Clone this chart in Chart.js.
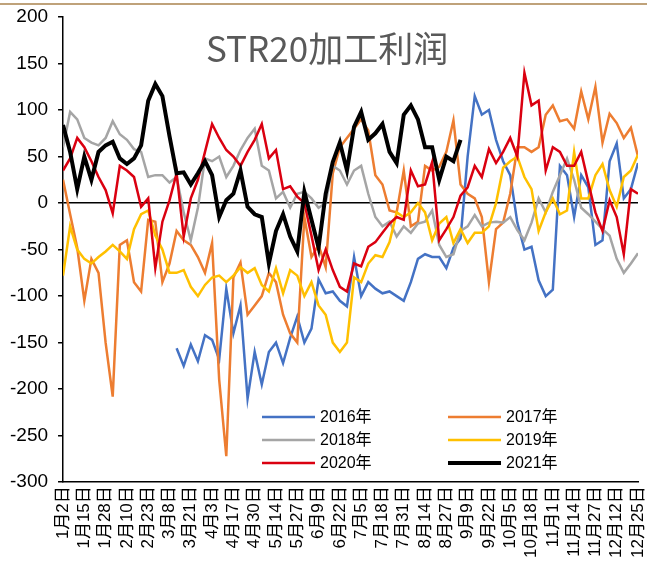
<!DOCTYPE html>
<html>
<head>
<meta charset="utf-8">
<script src="https://cdn.jsdelivr.net/npm/chart.js@4.4.0/dist/chart.umd.min.js"></script>
<style>
  html, body { margin: 0; padding: 0; background: #fff; }
</style>
</head>
<body>
<canvas id="graphe" width="647" height="562"></canvas>
<script>
// STR20 processing margin, seasonal comparison 2016-2021

const titre = "STR20加工利润";

const tickLabels = [
  "1月2日", "1月15日", "1月28日", "2月10日", "2月23日", "3月8日", "3月21日",
  "4月3日", "4月17日", "4月30日", "5月14日", "5月27日", "6月9日", "6月22日",
  "7月5日", "7月18日", "7月31日", "8月14日", "8月27日", "9月9日", "9月22日",
  "10月5日", "10月18日", "11月1日", "11月14日", "11月27日", "12月12日", "12月25日",
];
const yTicks = [-300, -250, -200, -150, -100, -50, 0, 50, 100, 150, 200];

// one point every third of a label interval
const seriesNames = ["2016年", "2017年", "2018年", "2019年", "2020年", "2021年"];

const v2016 = [
  null, null, null, null, null, null, null, null, null, null,
  null, null, null, null, null, null, -156, -175, -152, -170,
  -142, -147, -168, -92, -140, -110, -210, -160, -195, -160,
  -150, -172, -145, -122, -150, -135, -82, -97, -95, -105,
  -111, -58, -100, -85, -92, -97, -95, -100, -105, -85,
  -60, -55, -58, -58, -70, -48, -38, 50, 115, 95,
  100, 68, 45, 30, -21, -50, -47, -83, -100, -93,
  40, 30, -15, 30, 17, -45, -40, 45, 64, 5,
  15, 43,
];
const v2017 = [
  25, -12, -48, -105, -60, -75, -150, -208, -45, -40,
  -85, -95, -18, -20, -85, -65, -30, -40, -45, -58,
  -75, -43, -190, -272, -80, -64, -120, -110, -100, -75,
  -85, -120, -140, -150, -15, -58, -45, -69, 32, 60,
  70, 80, 90, 78, 30, 20, -8, -10, 35, -25,
  -20, 40, 35, 39, 55, 89, 20, 10, 5, -15,
  -85, -28, -21, 10, 60, 60, 55, 60, 95, 105,
  88, 90, 80, 120, 90, 125, 65, 96, 86, 70,
  81, 50,
];
const v2018 = [
  60, 98, 90, 70, 65, 62, 70, 88, 74, 68,
  58, 55, 28, 30, 30, 22, 28, -10, -40, -5,
  48, 45, 50, 28, 40, 57, 70, 80, 40, 35,
  5, 12, -5, 10, 12, 5, -5, 0, 40, 35,
  20, 35, 40, 10, -15, -25, -20, -36, -25, -32,
  -22, -20, -8, -45, -58, -55, -30, -25, -13, -25,
  -21, -20, -21, -15, -29, -40, -21, 5, -10, 12,
  30, 48, 25, -5, -12, -20, -28, -35, -60, -75,
  -65, -54,
];
const v2019 = [
  -78, -25, -50, -60, -65, -58, -52, -45, -52, -60,
  -28, -12, -8, -35, -50, -75, -75, -72, -90, -100,
  -88, -80, -78, -85, -78, -69, -75, -70, -88, -95,
  -70, -97, -72, -78, -100, -85, -110, -120, -150, -160,
  -150, -80, -85, -65, -56, -58, -42, -10, -15, -10,
  0, -10, -40, -22, -15, -43, -28, -43, -32, -32,
  -25, 0, 38, 45, 50, 28, 15, -30, -10, 5,
  -12, -8, 55, 5, 5, 30, 42, 14, -4, 28,
  35, 52,
];
const v2020 = [
  35, 48, 70, 60, 45, 28, 14, -11, 40, 35,
  28, -4, 5, -70, -20, 3, 32, -36, 5, 25,
  55, 85, 70, 57, 50, 40, 55, 68, 85, 48,
  57, 15, 18, 7, 0, -35, -72, -50, -72, -90,
  -95, -65, -68, -47, -42, -32, -22, -15, -18, 35,
  18, 20, 44, -40, -28, -15, 8, 17, 40, 28,
  58, 43, 55, 70, 50, 140, 105, 110, 35, 60,
  55, 40, 40, 55, 22, -10, -30, 3, -15, -55,
  15, 10,
];
const v2021 = [
  84, 55, 15, 50, 25, 55, 62, 66, 48, 42,
  48, 62, 110, 128, 115, 72, 32, 33, 20, 32,
  45, 30, -15, 3, 10, 35, -4, -12, -15, -65,
  -30, -12, -36, -52, 12, -18, -48, 10, 44, 65,
  35, 82, 98, 68, 75, 85, 55, 43, 95, 105,
  90, 60, 60, 25, 50, 45, 68,
];

const valeurs = [v2016, v2017, v2018, v2019, v2020, v2021];
const couleurs = ["#4472C4", "#ED7D31", "#A5A5A5", "#FFC000", "#DA0010", "#000000"];
const epaisseurs = [2.5, 2.5, 2.5, 2.5, 2.5, 4];

const police = '"Liberation Sans", Arial, "Noto Sans CJK SC", sans-serif';

const datasets = seriesNames.map((nom, i) => ({
  label: nom,
  data: valeurs[i].map((v, j) => ({ x: j / 3, y: v })),
  borderColor: couleurs[i],
  backgroundColor: couleurs[i],
  borderWidth: epaisseurs[i],
  pointRadius: 0,
  tension: 0,
  spanGaps: false,
  order: seriesNames.length - i,
}));

// title, top rule and in-plot legend
const decor = {
  id: "decor",
  beforeDraw(chart) {
    const ctx = chart.ctx;
    ctx.save();
    ctx.fillStyle = "#fff";
    ctx.fillRect(0, 0, chart.width, chart.height);
    ctx.fillStyle = "#BFA27A";
    ctx.fillRect(0, 3, chart.width, 2);
    ctx.restore();
  },
  afterDraw(chart) {
    const ctx = chart.ctx;
    ctx.save();
    ctx.font = '35px "Noto Sans CJK SC", sans-serif';
    ctx.fillStyle = "#595959";
    ctx.textBaseline = "alphabetic";
    ctx.textAlign = "left";
    ctx.fillText(titre, 206, 62);

    ctx.font = "16px " + police;
    ctx.fillStyle = "#000";
    ctx.textBaseline = "middle";
    chart.data.datasets.forEach((ds, i) => {
      const col = i % 2;
      const row = Math.floor(i / 2);
      const x = col === 0 ? 262 : 448;
      const y = 417 + row * 23;
      ctx.strokeStyle = ds.borderColor;
      ctx.lineWidth = ds.borderWidth;
      ctx.beginPath();
      ctx.moveTo(x, y);
      ctx.lineTo(x + 53, y);
      ctx.stroke();
      ctx.fillText(ds.label, x + 58, y + 1);
    });
    ctx.restore();
  },
};

new Chart(document.getElementById("graphe"), {
  type: "line",
  data: { datasets },
  plugins: [decor],
  options: {
    responsive: false,
    animation: false,
    devicePixelRatio: 1,
    layout: { padding: { left: 0, right: 0, top: 0, bottom: 0 } },
    plugins: { legend: { display: false }, tooltip: { enabled: false } },
    scales: {
      x: {
        type: "linear",
        min: 0,
        max: tickLabels.length - 1,
        afterBuildTicks: (axis) => {
          axis.ticks = tickLabels.map((_, i) => ({ value: i }));
        },
        afterFit: (axis) => {
          axis.paddingRight = 9;
        },
        ticks: {
          autoSkip: false,
          maxRotation: 90,
          minRotation: 90,
          padding: 4,
          color: "#000",
          font: { family: police, size: 17 },
          callback: (v) => tickLabels[Math.round(v)],
        },
        grid: { drawOnChartArea: false, drawTicks: false },
        border: { color: "#000", width: 1.5 },
      },
      y: {
        min: yTicks[0],
        max: yTicks[yTicks.length - 1],
        afterBuildTicks: (axis) => {
          axis.ticks = yTicks.map((v) => ({ value: v }));
        },
        afterFit: (axis) => {
          axis.paddingTop = 17;
        },
        ticks: {
          padding: 10,
          color: "#000",
          font: { family: police, size: 19 },
        },
        grid: {
          color: (c) => (c.tick && c.tick.value === 0 ? "#000" : "rgba(0,0,0,0)"),
          tickColor: "#000",
          tickLength: 5,
          lineWidth: 1.5,
        },
        border: { color: "#000", width: 1.5 },
      },
    },
  },
});
</script>
</body>
</html>
